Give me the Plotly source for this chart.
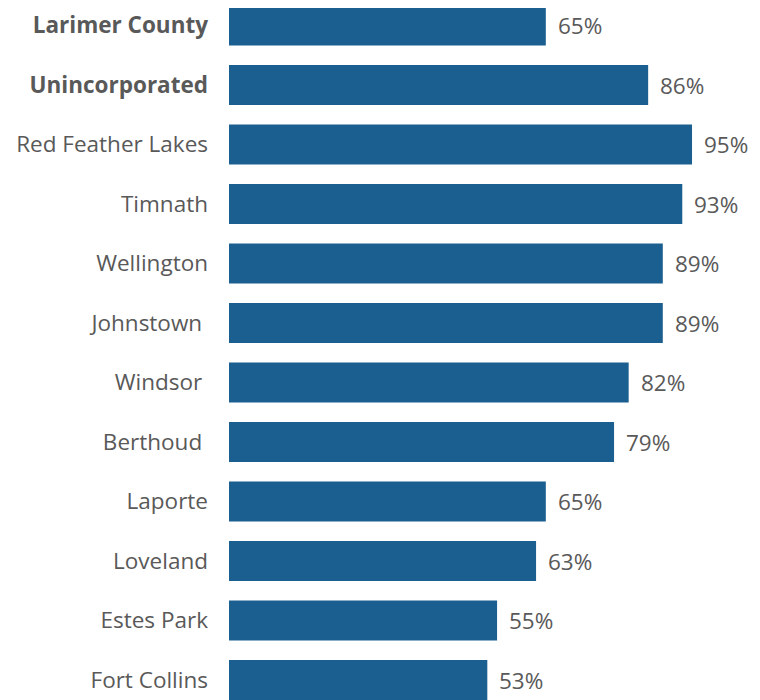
import plotly.graph_objects as go

places = ["Larimer County", "Unincorporated", "Red Feather Lakes", "Timnath",
          "Wellington", "Johnstown", "Windsor", "Berthoud", "Laporte",
          "Loveland", "Estes Park", "Fort Collins"]
pct = [65, 86, 95, 93, 89, 89, 82, 79, 65, 63, 55, 53]
bold = {"Larimer County", "Unincorporated"}
padded = {"Johnstown", "Windsor", "Berthoud"}

BAR = "#1a5f8f"
GREY = "#595959"
FONT = "Open Sans, sans-serif"
SIZE = 22.5


def tick_label(name):
    if name in bold:
        return f"<b>{name}</b>"
    if name in padded:
        return name + "\u00a0"
    return name


fig = go.Figure(go.Bar(
    x=pct, y=places, orientation="h",
    marker=dict(color=BAR, line=dict(width=0)),
    width=0.67, hoverinfo="skip",
))

for name, v in zip(places, pct):
    fig.add_annotation(x=v, y=name, text=f"{v}%", showarrow=False,
                       xanchor="left", xshift=10,
                       font=dict(family=FONT, size=SIZE, color=GREY))

# page body has an 8px margin, so the figure sits at (8, 8)
fig.update_layout(
    width=760, height=700,
    margin=dict(l=221, r=0, t=0, b=0),
    paper_bgcolor="white", plot_bgcolor="white",
    font=dict(family=FONT, size=SIZE, color=GREY),
    showlegend=False,
)
fig.update_xaxes(range=[0, 539 / 4.874], visible=False, showgrid=False, zeroline=False)
fig.update_yaxes(
    type="category", categoryorder="array", categoryarray=places,
    range=[11.47, -0.294],
    tickvals=places, ticktext=[tick_label(p) for p in places],
    ticks="", showgrid=False, zeroline=False, showline=False,
    ticklabelstandoff=20,
    tickfont=dict(family=FONT, size=SIZE, color=GREY),
)

fig.write_html("out.html")
